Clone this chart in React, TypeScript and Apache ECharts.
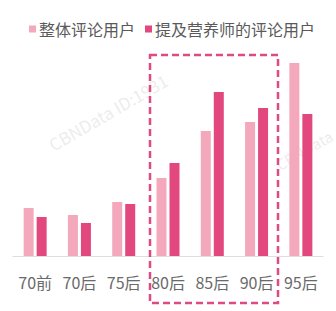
import React, { useEffect, useRef } from "react";
import * as echarts from "echarts";

const categories = ["70前", "70后", "75后", "80后", "85后", "90后", "95后"];
const overallUsers = [48, 41, 54, 78, 125, 134, 193];
const nutritionistUsers = [39, 33, 52, 93, 164, 148, 142];
const seriesNames = ["整体评论用户", "提及营养师的评论用户"];

export default function App() {
  const ref = useRef<HTMLDivElement>(null);
  useEffect(() => {
    if (!ref.current) return;
    const chart = echarts.init(ref.current, null, { renderer: "svg" });
    const font = "'Noto Sans CJK SC', 'Noto Sans', sans-serif";
    chart.setOption({
      animation: false,
      backgroundColor: "#ffffff",
      legend: {
        top: 16,
        left: 24,
        itemWidth: 7,
        itemHeight: 7,
        itemGap: 10,
        icon: "rect",
        textStyle: { fontSize: 16, color: "#5a5a5a", fontFamily: font, padding: [0, 0, 0, -2] },
        data: seriesNames,
      },
      grid: { left: 13, right: 13, top: 56, bottom: 55 },
      xAxis: {
        type: "category",
        data: categories,
        axisLine: { lineStyle: { color: "#dedede", width: 1 } },
        axisTick: { show: false },
        axisLabel: { fontSize: 16, color: "#6a6a6a", fontFamily: font, margin: 18 },
      },
      yAxis: {
        type: "value",
        min: 0,
        max: 200,
        show: false,
        splitLine: { show: false },
      },
      series: [
        {
          name: seriesNames[0],
          type: "bar",
          data: overallUsers,
          barWidth: 10,
          barGap: "30%",
          itemStyle: { color: "#F3A9BB" },
        },
        {
          name: seriesNames[1],
          type: "bar",
          data: nutritionistUsers,
          barWidth: 10,
          itemStyle: { color: "#E2477D" },
        },
      ],
      graphic: [
        {
          type: "text",
          x: 108,
          y: 112,
          rotation: (30 * Math.PI) / 180,
          style: {
            text: "CBNData ID:1931",
            fontSize: 17,
            fontFamily: font,
            fill: "rgba(200,200,200,0.35)",
            align: "center",
            verticalAlign: "middle",
          },
          z: 0,
        },
        {
          type: "text",
          x: 304,
          y: 150,
          rotation: (30 * Math.PI) / 180,
          style: {
            text: "CBNData",
            fontSize: 15,
            fontFamily: font,
            fill: "rgba(200,200,200,0.35)",
            align: "center",
            verticalAlign: "middle",
          },
          z: 0,
        },
        {
          type: "rect",
          shape: { x: 150, y: 55, width: 128, height: 248 },
          style: {
            fill: "none",
            stroke: "#DE4A82",
            lineWidth: 2.5,
            lineDash: [7, 4],
          },
          z: 100,
        },
      ],
    });
    return () => chart.dispose();
  }, []);
  return <div ref={ref} style={{ width: 336, height: 311, position: "absolute", left: 0, top: 0 }} />;
}
